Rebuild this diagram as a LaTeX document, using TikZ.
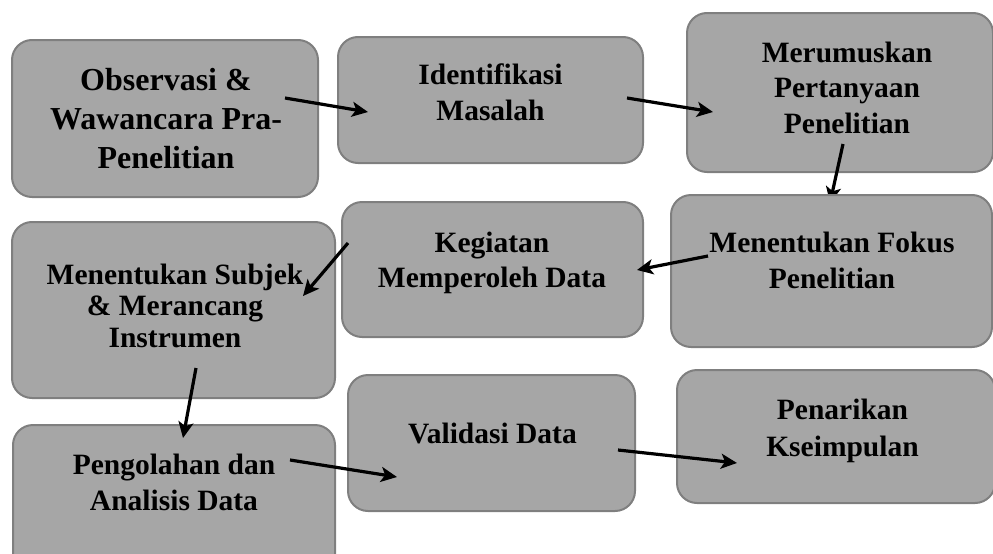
\documentclass[tikz,border=0pt]{standalone}
\usepackage{fontspec}
\setmainfont{Liberation Serif}
\usetikzlibrary{arrows.meta}
\definecolor{boxfill}{HTML}{A6A6A6}
\definecolor{boxborder}{HTML}{7F7F7F}
\newcommand\boxtext[3][29.5]{\fontsize{#1}{#2}\selectfont\bfseries\begin{tabular}[t]{@{}c@{}}#3\end{tabular}}
\begin{document}
\begin{tikzpicture}[x=1pt,y=-1pt,
  stepbox/.style={draw=boxborder,fill=boxfill,line width=2pt,rounded corners=20pt,inner sep=0pt},
  lbl/.style={anchor=base,inner sep=0pt,text=black},
  arr/.style={line width=3.2pt,-{Stealth[length=16pt,width=15pt,inset=4pt]}}]
\useasboundingbox (0,0) rectangle (993,554);
% first row
\node (b1) [stepbox,minimum width=306pt,minimum height=157pt] at (165,118.5) {};
\node (b2) [stepbox,minimum width=305pt,minimum height=126pt] at (490.5,100) {};
\node (b3) [stepbox,minimum width=306pt,minimum height=159pt] at (840,92.5) {};
\node (t1) [lbl] at (166,90) {\boxtext[32]{39}{Observasi \&\\Wawancara Pra-\\Penelitian}};
\node (t2) [lbl] at (490.5,84) {\boxtext{36}{Identifikasi\\Masalah}};
\node (t3) [lbl] at (847,62) {\boxtext{35.5}{Merumuskan\\Pertanyaan\\Penelitian}};
% arrow endpoints
\coordinate (a1s) at (285,98);  \coordinate (a1e) at (368,112);
\coordinate (a2s) at (627,98);  \coordinate (a2e) at (713,112);
\coordinate (a3s) at (843,144); \coordinate (a3e) at (830,203);
\coordinate (a4s) at (708,256); \coordinate (a4e) at (637,270);
\coordinate (a5s) at (348,243); \coordinate (a5e) at (303,296);
\coordinate (a6s) at (196,368); \coordinate (a6e) at (183,438);
\coordinate (a7s) at (290,460); \coordinate (a7e) at (397,477);
\coordinate (a8s) at (618,450); \coordinate (a8e) at (737,463);
\draw[arr] (a1s) -- (a1e);
\draw[arr] (a2s) -- (a2e);
\draw[arr] (a3s) -- (a3e);
% second and third rows
\node (b4) [stepbox,minimum width=321pt,minimum height=152pt] at (831.5,271) {};
\node (b5) [stepbox,minimum width=301pt,minimum height=135pt] at (492.5,269.5) {};
\node (b6) [stepbox,minimum width=323pt,minimum height=176pt] at (173.5,310) {};
\node (b7) [stepbox,minimum width=322pt,minimum height=150pt] at (174,500) {};
\node (b8) [stepbox,minimum width=287pt,minimum height=136pt] at (491.5,443) {};
\node (b9) [stepbox,minimum width=318pt,minimum height=133pt] at (836,436.5) {};
\node (t4) [lbl] at (832,252) {\boxtext{36}{Menentukan Fokus\\Penelitian}};
\node (t5) [lbl] at (492,252) {\boxtext{35}{Kegiatan\\Memperoleh Data}};
\node (t6) [lbl] at (175,284) {\boxtext{31.5}{Menentukan Subjek\\\& Merancang\\Instrumen}};
\node (t7) [lbl] at (174,474) {\boxtext{36}{Pengolahan dan\\Analisis Data}};
\node (t8) [lbl] at (492.5,443) {\boxtext{36}{Validasi Data}};
\node (t9) [lbl] at (842.5,419) {\boxtext{37}{Penarikan\\Kseimpulan}};
\draw[arr] (a4s) -- (a4e);
\draw[arr] (a5s) -- (a5e);
\draw[arr] (a6s) -- (a6e);
\draw[arr] (a7s) -- (a7e);
\draw[arr] (a8s) -- (a8e);
\end{tikzpicture}
\end{document}
